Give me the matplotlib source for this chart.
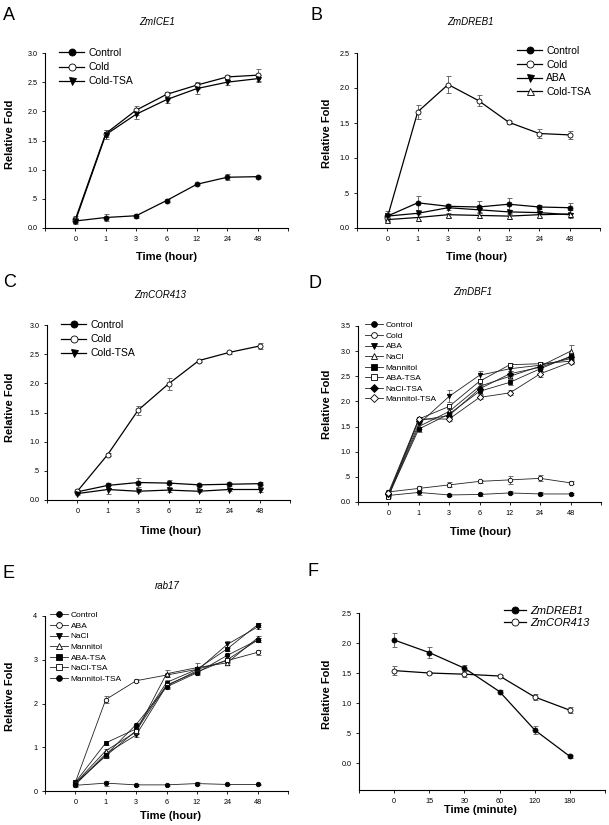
import matplotlib
matplotlib.use("Agg")
import matplotlib.pyplot as plt
import numpy as np

plt.rcParams['font.family'] = ['Liberation Sans', 'DejaVu Sans']

W, H = 609, 825

# ---------------- data ----------------
hours = ['0', '1', '3', '6', '12', '24', '48']
minutes = ['0', '15', '30', '60', '120', '180']

# Panel A: ZmICE1
A_labels = ['Control', 'Cold', 'Cold-TSA']
A_control = [0.12, 0.18, 0.21, 0.47, 0.75, 0.87, 0.88]
A_control_err = [0.05, 0.06, 0.03, 0.03, 0.02, 0.05, 0.02]
A_cold = [0.15, 1.62, 2.02, 2.29, 2.45, 2.59, 2.62]
A_cold_err = [0.05, 0.06, 0.08, 0.04, 0.06, 0.04, 0.10]
A_coldtsa = [0.12, 1.60, 1.95, 2.20, 2.39, 2.50, 2.56]
A_coldtsa_err = [0.04, 0.08, 0.08, 0.05, 0.10, 0.04, 0.06]

# Panel B: ZmDREB1
B_labels = ['Control', 'Cold', 'ABA', 'Cold-TSA']
B_control = [0.17, 0.36, 0.31, 0.30, 0.34, 0.30, 0.29]
B_control_err = [0.08, 0.10, 0.03, 0.09, 0.09, 0.03, 0.07]
B_cold = [0.15, 1.66, 2.05, 1.82, 1.51, 1.35, 1.33]
B_cold_err = [0.05, 0.10, 0.12, 0.08, 0.02, 0.07, 0.06]
B_aba = [0.17, 0.21, 0.29, 0.26, 0.23, 0.22, 0.19]
B_aba_err = [0.05, 0.05, 0.03, 0.03, 0.03, 0.02, 0.03]
B_coldtsa = [0.12, 0.15, 0.19, 0.18, 0.17, 0.19, 0.20]
B_coldtsa_err = [0.02, 0.05, 0.03, 0.03, 0.04, 0.03, 0.06]

# Panel C: ZmCOR413
C_labels = ['Control', 'Cold', 'Cold-TSA']
C_control = [0.14, 0.25, 0.30, 0.29, 0.26, 0.27, 0.28]
C_control_err = [0.03, 0.04, 0.08, 0.06, 0.02, 0.03, 0.03]
C_cold = [0.15, 0.78, 1.54, 1.99, 2.39, 2.53, 2.64]
C_cold_err = [0.03, 0.02, 0.08, 0.10, 0.02, 0.03, 0.05]
C_coldtsa = [0.11, 0.18, 0.15, 0.17, 0.15, 0.18, 0.18]
C_coldtsa_err = [0.02, 0.07, 0.02, 0.04, 0.02, 0.02, 0.04]

# Panel D: ZmDBF1
D_labels = ['Control', 'Cold', 'ABA', 'NaCl', 'Mannitol', 'ABA-TSA', 'NaCl-TSA', 'Mannitol-TSA']
D_control = [0.13, 0.19, 0.14, 0.15, 0.18, 0.16, 0.16]
D_control_err = [0.02, 0.06, 0.02, 0.03, 0.03, 0.03, 0.02]
D_cold = [0.20, 0.27, 0.34, 0.41, 0.44, 0.47, 0.38]
D_cold_err = [0.03, 0.04, 0.05, 0.03, 0.08, 0.06, 0.03]
D_aba = [0.15, 1.55, 2.10, 2.52, 2.65, 2.72, 2.85]
D_aba_err = [0.03, 0.05, 0.12, 0.08, 0.05, 0.05, 0.05]
D_nacl = [0.12, 1.50, 1.80, 2.30, 2.50, 2.70, 3.00]
D_nacl_err = [0.03, 0.05, 0.05, 0.05, 0.05, 0.05, 0.12]
D_mannitol = [0.12, 1.45, 1.75, 2.20, 2.38, 2.65, 2.90]
D_mannitol_err = [0.03, 0.05, 0.05, 0.05, 0.05, 0.05, 0.05]
D_abatsa = [0.10, 1.65, 1.90, 2.40, 2.73, 2.75, 2.80]
D_abatsa_err = [0.03, 0.04, 0.05, 0.05, 0.03, 0.04, 0.04]
D_nacltsa = [0.15, 1.62, 1.72, 2.25, 2.55, 2.68, 2.88]
D_nacltsa_err = [0.03, 0.04, 0.05, 0.05, 0.05, 0.04, 0.05]
D_mannitoltsa = [0.18, 1.65, 1.65, 2.08, 2.17, 2.55, 2.78]
D_mannitoltsa_err = [0.03, 0.04, 0.04, 0.04, 0.05, 0.06, 0.04]

# Panel E: rab17
E_labels = ['Control', 'ABA', 'NaCl', 'Mannitol', 'ABA-TSA', 'NaCl-TSA', 'Mannitol-TSA']
E_control = [0.13, 0.18, 0.14, 0.14, 0.17, 0.15, 0.15]
E_control_err = [0.03, 0.06, 0.02, 0.02, 0.03, 0.02, 0.02]
E_aba = [0.20, 2.09, 2.52, 2.65, 2.78, 2.98, 3.17]
E_aba_err = [0.04, 0.08, 0.03, 0.05, 0.04, 0.05, 0.05]
E_nacl = [0.15, 0.85, 1.28, 2.40, 2.75, 3.35, 3.75]
E_nacl_err = [0.03, 0.05, 0.05, 0.05, 0.05, 0.08, 0.05]
E_mannitol = [0.18, 0.92, 1.35, 2.68, 2.82, 2.93, 3.50]
E_mannitol_err = [0.03, 0.05, 0.05, 0.08, 0.10, 0.05, 0.05]
E_abatsa = [0.20, 1.10, 1.42, 2.48, 2.78, 3.25, 3.80]
E_abatsa_err = [0.03, 0.04, 0.04, 0.05, 0.05, 0.05, 0.05]
E_nacltsa = [0.18, 0.80, 1.38, 2.42, 2.72, 3.00, 3.45]
E_nacltsa_err = [0.03, 0.05, 0.05, 0.05, 0.05, 0.05, 0.05]
E_mannitoltsa = [0.15, 0.82, 1.52, 2.38, 2.70, 3.10, 3.45]
E_mannitoltsa_err = [0.03, 0.05, 0.04, 0.05, 0.04, 0.05, 0.05]

# Panel F: recovery
F_labels = ['ZmDREB1', 'ZmCOR413']
F_dreb1 = [2.05, 1.84, 1.58, 1.19, 0.55, 0.11]
F_dreb1_err = [0.12, 0.09, 0.05, 0.03, 0.06, 0.02]
F_cor413 = [1.54, 1.50, 1.48, 1.45, 1.10, 0.88]
F_cor413_err = [0.08, 0.02, 0.05, 0.02, 0.05, 0.05]

# ---------------- styles ----------------
ST = {
    'fc': dict(marker='o', mfc='black'),
    'oc': dict(marker='o', mfc='white'),
    'ft': dict(marker='v', mfc='black'),
    'ot': dict(marker='^', mfc='white'),
    'fs': dict(marker='s', mfc='black'),
    'os': dict(marker='s', mfc='white'),
    'fd': dict(marker='D', mfc='black'),
    'od': dict(marker='D', mfc='white'),
}

fig = plt.figure(figsize=(W / 100, H / 100), dpi=100)


def px(x, y):
    return x / W, 1 - y / H


def make_ax(l, r, t, b):
    return fig.add_axes([l / W, 1 - b / H, (r - l) / W, (b - t) / H])


def style_axis(ax, cats, ylim, yticks, ylabels, xlim):
    ax.set_xlim(*xlim)
    ax.set_ylim(*ylim)
    n = len(cats)
    ticks = list(range(int(xlim[0]), int(xlim[1]) + 1))
    labels = [cats[t] if 0 <= t < n else '' for t in ticks]
    ax.set_xticks(ticks)
    ax.set_xticklabels(labels)
    ax.set_yticks(yticks)
    ax.set_yticklabels(ylabels)
    for s in ['top', 'right']:
        ax.spines[s].set_visible(False)
    for s in ['left', 'bottom']:
        ax.spines[s].set_linewidth(0.8)
    ax.spines['left'].set_bounds(ylim[0], ylim[1])
    ax.tick_params(direction='out', length=2.5, width=0.6, labelsize=5.2, pad=3)
    ax.patch.set_alpha(0)


def plot_series(ax, x, ys, errs, styles, labels, ms=3.6, lw=0.9, lcol='black'):
    handles = []
    for y, e, st, lab in zip(ys, errs, styles, labels):
        ax.errorbar(x, y, yerr=e, fmt='none', ecolor='#555555', elinewidth=0.6,
                    capsize=1.8, capthick=0.6, zorder=2)
        h, = ax.plot(x, y, color=lcol, lw=lw, marker=ST[st]['marker'],
                     mfc=ST[st]['mfc'], mec='black', mew=0.6, ms=ms, label=lab, zorder=3)
        handles.append(h)
    return handles


def add_legend(ax, handles, labels, x0, ytop, fs, hl, lsp, italic=False, mscale=1.4):
    leg = ax.legend(handles, labels, loc='upper left', bbox_to_anchor=px(x0, ytop),
                    bbox_transform=fig.transFigure, frameon=False, borderpad=0,
                    fontsize=fs, handlelength=hl, handletextpad=0.4,
                    labelspacing=lsp, markerscale=mscale, borderaxespad=0)
    if italic:
        for t in leg.get_texts():
            t.set_style('italic')
    return leg


def ftext(x, y, s, **kw):
    fig.text(x / W, 1 - y / H, s, **kw)


yt3 = [0, 0.5, 1.0, 1.5, 2.0, 2.5, 3.0]
yl3 = ['0.0', '.5', '1.0', '1.5', '2.0', '2.5', '3.0']
yt25 = [0, 0.5, 1.0, 1.5, 2.0, 2.5]
yl25 = ['0.0', '.5', '1.0', '1.5', '2.0', '2.5']
yt35 = [0, 0.5, 1.0, 1.5, 2.0, 2.5, 3.0, 3.5]
yl35 = ['0.0', '.5', '1.0', '1.5', '2.0', '2.5', '3.0', '3.5']

xh = np.arange(len(hours))
xm = np.arange(len(minutes))

# ---- A ----
axA = make_ax(45, 288, 53, 228)
style_axis(axA, hours, (0, 3.0), yt3, yl3, (-1, 7))
hA = plot_series(axA, xh, [A_control, A_cold, A_coldtsa],
                 [A_control_err, A_cold_err, A_coldtsa_err], ['fc', 'oc', 'ft'], A_labels)
add_legend(axA, hA, A_labels, 59, 48, 7.5, 2.4, 0.4)

# ---- B ----
axB = make_ax(357, 600, 53, 228)
style_axis(axB, hours, (0, 2.5), yt25, yl25, (-1, 7))
hB = plot_series(axB, xh, [B_control, B_cold, B_aba, B_coldtsa],
                 [B_control_err, B_cold_err, B_aba_err, B_coldtsa_err],
                 ['fc', 'oc', 'ft', 'ot'], B_labels)
add_legend(axB, hB, B_labels, 517, 46, 7.5, 2.4, 0.35)

# ---- C ----
axC = make_ax(47, 290, 325, 500)
style_axis(axC, hours, (0, 3.0), yt3, yl3, (-1, 7))
hC = plot_series(axC, xh, [C_control, C_cold, C_coldtsa],
                 [C_control_err, C_cold_err, C_coldtsa_err], ['fc', 'oc', 'ft'], C_labels)
add_legend(axC, hC, C_labels, 61, 320, 7.5, 2.4, 0.4)

# ---- D ----
axD = make_ax(358, 601, 326, 502)
style_axis(axD, hours, (0, 3.5), yt35, yl35, (-1, 7))
hD = plot_series(axD, xh,
                 [D_control, D_cold, D_aba, D_nacl, D_mannitol, D_abatsa, D_nacltsa, D_mannitoltsa],
                 [D_control_err, D_cold_err, D_aba_err, D_nacl_err, D_mannitol_err,
                  D_abatsa_err, D_nacltsa_err, D_mannitoltsa_err],
                 ['fc', 'oc', 'ft', 'ot', 'fs', 'os', 'fd', 'od'], D_labels,
                 ms=3.2, lw=0.6, lcol='#222222')
add_legend(axD, hD, D_labels, 365, 321.5, 6, 2.1, 0.33, mscale=1.3)

# ---- E ----
axE = make_ax(45, 288, 616, 791)
style_axis(axE, hours, (0, 4), [0, 1, 2, 3, 4], ['0', '1', '2', '3', '4'], (-1, 7))
hE = plot_series(axE, xh,
                 [E_control, E_aba, E_nacl, E_mannitol, E_abatsa, E_nacltsa, E_mannitoltsa],
                 [E_control_err, E_aba_err, E_nacl_err, E_mannitol_err, E_abatsa_err,
                  E_nacltsa_err, E_mannitoltsa_err],
                 ['fc', 'oc', 'ft', 'ot', 'fs', 'os', 'fc'], E_labels,
                 ms=3.2, lw=0.6, lcol='#222222')
add_legend(axE, hE, E_labels, 50, 611.5, 6, 2.1, 0.33, mscale=1.3)

# ---- F ----
axF = make_ax(359, 605, 613, 790)
style_axis(axF, minutes, (-0.45, 2.5), yt25, yl25, (-1, 6))
hF = plot_series(axF, xm, [F_dreb1, F_cor413], [F_dreb1_err, F_cor413_err],
                 ['fc', 'oc'], F_labels)
add_legend(axF, hF, F_labels, 504, 606, 8, 2.0, 0.2, italic=True)

# ---- texts ----
ylab = dict(rotation=90, ha='center', va='center', fontsize=8, fontweight='bold')
xlab = dict(ha='center', va='center', fontsize=8, fontweight='bold')
titl = dict(ha='center', va='center', fontsize=7, style='italic')
lett = dict(ha='left', va='top', fontsize=13)

for (x, y) in [(10, 134), (327, 133), (10, 407), (327, 404), (10, 696), (327, 694)]:
    ftext(x, y, 'Relative Fold', **ylab)

ftext(166, 257, 'Time (hour)', **xlab)
ftext(477, 257, 'Time (hour)', **xlab)
ftext(171, 531, 'Time (hour)', **xlab)
ftext(480, 532, 'Time (hour)', **xlab)
ftext(171, 816, 'Time (hour)', **xlab)
ftext(480, 810, 'Time (minute)', **xlab)

ftext(157, 22, 'ZmICE1', **titl)
ftext(470, 22, 'ZmDREB1', **titl)
ftext(160, 295, 'ZmCOR413', **titl)
ftext(473, 292, 'ZmDBF1', **titl)
ftext(167, 586, 'rab17', **titl)

ftext(3, 7, 'A', **lett)
ftext(310, 7, 'B', **lett)
ftext(3, 274, 'C', **lett)
ftext(308, 275, 'D', **lett)
ftext(3, 565, 'E', **lett)
ftext(307, 563, 'F', **lett)

fig.savefig('out.png', dpi=100, facecolor='white')
